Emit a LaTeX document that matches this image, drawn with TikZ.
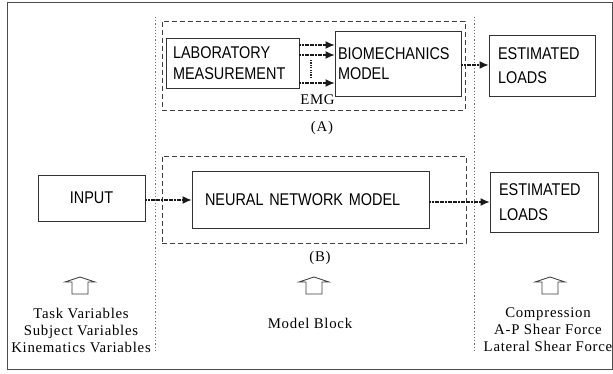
\documentclass[tikz,border=0pt]{standalone}
\usepackage{fontspec}
\setmainfont{Liberation Serif}[LetterSpace=5]
\newfontfamily\boxfont{Liberation Sans}[FakeStretch=0.85]
\usetikzlibrary{arrows.meta}
\begin{document}
\begin{tikzpicture}[x=1pt,y=-1pt,
  box/.style={draw=black!80, line width=0.9pt, rectangle, inner ysep=0pt, align=left},
  sansA/.style={font=\boxfont\fontsize{17}{20.5}\selectfont},
  sansB/.style={font=\boxfont\fontsize{17}{24.5}\selectfont},
  serif/.style={font=\fontsize{14.8}{17}\selectfont, inner sep=0pt, align=center},
  dbox/.style={draw=black!75, line width=0.8pt, dash pattern=on 5pt off 3pt, rectangle, inner sep=0pt},
  colline/.style={draw=black!55, line width=0.7pt, dash pattern=on 1.2pt off 2pt},
  conn/.style={draw=black!90, line width=1.2pt, dash pattern=on 2pt off 0.6pt, -{Latex[length=9pt,width=8pt]}},
  uparr/.pic={\draw[black!75, line width=0.8pt] (-8,8.5) -- (-8,-3.5) -- (-15,-3.5) -- (0,-8.5) -- (15,-3.5) -- (8,-3.5) -- (8,8.5) -- cycle;}
]
\useasboundingbox (0,0) rectangle (613,374);
\fill[white] (0,0) rectangle (613,374);
% outer frame
\draw[black!70, line width=1pt] (7,3) rectangle (612,369);
% column dotted lines
\draw[colline] (155,17) -- (155,352);
\draw[colline] (474,17) -- (474,352);
% dashed boxes
\node[dbox, minimum width=303pt, minimum height=89pt] (boxA) at (313.5,65.5) {};
\node[dbox, minimum width=304pt, minimum height=87pt] (boxB) at (314,199.5) {};
% top row
\node[box, sansA, minimum width=133pt, minimum height=50pt, inner xsep=7pt, text width=119pt] (lab) at (232.5,63) {LABORATORY\\MEASUREMENT};
\node[box, sansA, minimum width=126pt, minimum height=65pt, inner xsep=3pt, text width=120pt] (bio) at (398,63.5) {BIOMECHANICS\\MODEL};
\node[box, sansB, minimum width=106pt, minimum height=61pt, inner xsep=9pt, text width=88pt] (elA) at (542,65.5) {ESTIMATED\\LOADS};
% bottom row
\node[box, sansA, minimum width=107pt, minimum height=46pt, inner xsep=0pt, text width=107pt, align=center] (inp) at (91.5,198) {INPUT};
\node[box, sansA, minimum width=237pt, minimum height=57pt, inner xsep=13pt, text width=211pt] (nn) at (310.5,199.5) {NEURAL NETWORK MODEL};
\node[box, sansB, minimum width=108pt, minimum height=60pt, inner xsep=9pt, text width=90pt] (elB) at (544,202) {ESTIMATED\\LOADS};
% connectors
\draw[conn] ([yshift=18pt]lab.east) -- ([yshift=18pt]lab.east -| bio.west);
\draw[conn] ([yshift=8pt]lab.east) -- ([yshift=8pt]lab.east -| bio.west);
\draw[conn] ([yshift=-20pt]lab.east) -- ([yshift=-20pt]lab.east -| bio.west);
\draw[black!85, line width=1.6pt, dash pattern=on 1.2pt off 1.2pt] (311,60) -- (311,78);
\draw[conn] ([yshift=-1.5pt]bio.east) -- ([yshift=-1.5pt]bio.east -| elA.west);
\draw[conn] ([yshift=-2pt]inp.east) -- ([yshift=-2pt]inp.east -| nn.west);
\draw[conn] (elB.west -| nn.east) -- (elB.west);
% labels
\node[serif] (emg) at (317.5,100) {EMG};
\node[serif] (labA) at (322,128) {(A)};
\node[serif] (labB) at (320,258) {(B)};
% up arrows
\pic at (80,285.5) {uparr};
\pic at (314,285.5) {uparr};
\pic at (550,285.5) {uparr};
% bottom texts
\node[serif] (inputs) at (81,330) {Task Variables\\Subject Variables\\Kinematics Variables};
\node[serif] (mblock) at (310,323) {Model Block};
\node[serif] (outputs) at (548,330) {Compression\\A-P Shear Force\\Lateral Shear Force};
\end{tikzpicture}
\end{document}
